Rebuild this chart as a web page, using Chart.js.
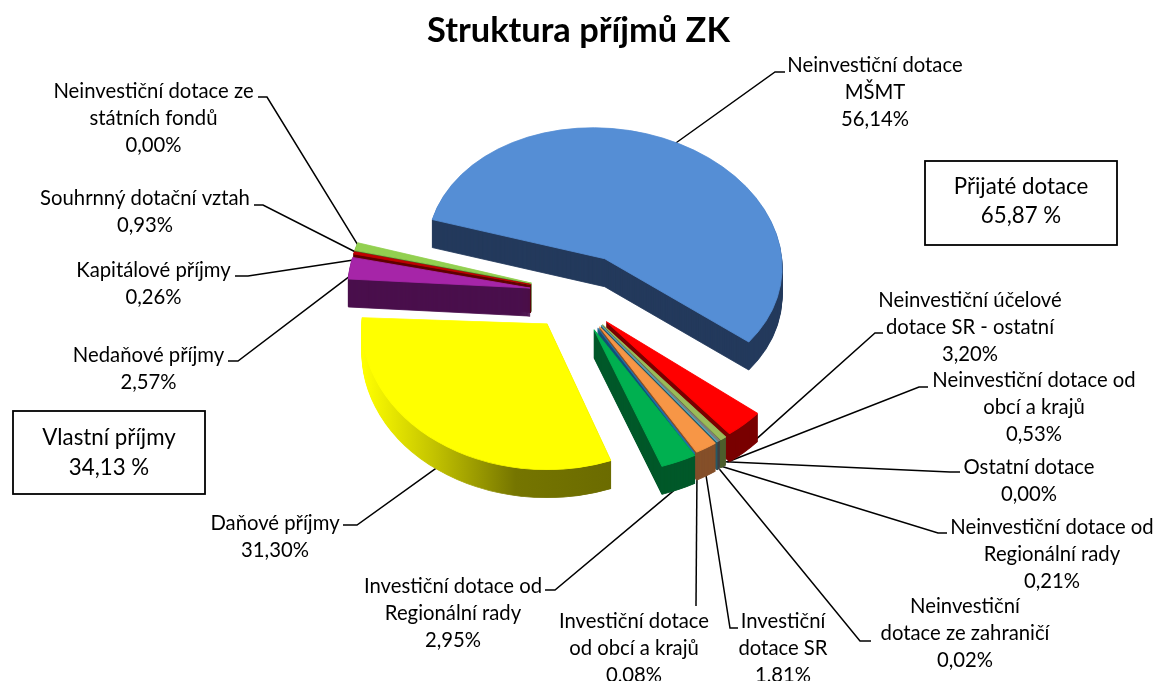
<!DOCTYPE html>
<html lang="cs">
<head>
<meta charset="utf-8">
<title>Struktura příjmů ZK</title>
<style>
  html, body { margin: 0; background: #fff; overflow: hidden; }
  canvas { display: block; }
</style>
<script src="https://cdn.jsdelivr.net/npm/chart.js@4/dist/chart.umd.min.js"></script>
</head>
<body>
<canvas id="graf" width="1157" height="681"></canvas>
<script>
const nadpis = "Struktura příjmů ZK";

const kategorie = [
  "Neinvestiční dotace MŠMT",
  "Neinvestiční účelové dotace SR - ostatní",
  "Neinvestiční dotace od obcí a krajů",
  "Ostatní dotace",
  "Neinvestiční dotace od Regionální rady",
  "Neinvestiční dotace ze zahraničí",
  "Investiční dotace SR",
  "Investiční dotace od obcí a krajů",
  "Investiční dotace od Regionální rady",
  "Daňové příjmy",
  "Nedaňové příjmy",
  "Kapitálové příjmy",
  "Souhrnný dotační vztah",
  "Neinvestiční dotace ze státních fondů",
];
const hodnoty = [56.14, 3.2, 0.53, 0, 0.21, 0.02, 1.81, 0.08, 2.95, 31.3, 2.57, 0.26, 0.93, 0];

// popisky po radcich, posledni radek je hodnota
const popisky = [
  ["Neinvestiční dotace", "MŠMT"],
  ["Neinvestiční účelové", "dotace SR - ostatní"],
  ["Neinvestiční dotace od", "obcí a krajů"],
  ["Ostatní dotace"],
  ["Neinvestiční dotace od", "Regionální rady"],
  ["Neinvestiční", "dotace ze zahraničí"],
  ["Investiční", "dotace SR"],
  ["Investiční dotace", "od obcí a krajů"],
  ["Investiční dotace od", "Regionální rady"],
  ["Daňové příjmy"],
  ["Nedaňové příjmy"],
  ["Kapitálové příjmy"],
  ["Souhrnný dotační vztah"],
  ["Neinvestiční dotace ze", "státních fondů"],
];
const rameckyText = [
  ["Přijaté dotace", "65,87 %"],
  ["Vlastní příjmy", "34,13 %"],
];

const barvy = ["#558ed5", "#ff0000", "#9bbb59", "#8064a2", "#7f7f7f", "#4bacc6", "#f79646", "#1f6fa8", "#00b050", "#ffff00", "#a625a8", "#c00000", "#92d050", "#4f81bd"];
const barvyBoku = ["#233a5c", "#7a0000", "#4e5e2d", "#40325a", "#404040", "#265a66", "#85502a", "#10507c", "#00592a", "#6b6b00", "#4a0f4c", "#5f0000", "#4a682a", "#28405e"];

// rozlozeni popisku: stred textu, prvni radek, zlom a konec vodici cary, posun od kraje vyseku
const popiskyX = [875, 970, 1034, 1029, 1052, 965, 783, 634, 453, 275, 148.5, 153.5, 145, 153.5];
const popiskyY = [65, 300, 380, 467, 527, 606, 621, 621, 586, 523, 355, 270, 198, 91];
const zlomy = [[775, 72], [875, 333], [919, 387], [950, 472], [938, 533], [860, 641], [730, 628], [696, 606], [555, 590], [357, 525], [238, 361], [248, 276], [263, 205], [267, 97]];
const konce = [[785, 72], [883, 333], [928, 387], [960, 472], [947, 533], [871, 641], [738, 628], [696, 606], [545, 590], [343, 525], [228, 361], [235, 276], [254, 205], [258, 97]];
const posunKotvy = [[-24, 8], [-6, 34], [1, 30], [2, 28], [-3, 31], [-1, 34], [-4, 29], [0, 28], [4, 31], [14, 28], [10, 7], [10, 7], [9, 6], [10, 6]];

// dorovnani perspektivy: predni vyseky jsou v originale vetsi, zadni mensi
const meritkoX = [0.957, 1.06, 1.06, 1.06, 1.06, 1.06, 1.06, 1.06, 1.06, 1, 0.985, 0.985, 0.985, 0.985];
const meritkoY = [0.97, 1.07, 1.07, 1.07, 1.07, 1.07, 1.07, 1.07, 1.07, 1.08, 1, 1, 1, 1];
const posunX = [0, -11, -10, -10, -10, -10, -9, -8, -7, 2, 6, 6, 6, 6];
const posunY = [0, -1, -1, -1, -1, -1, -1, -1, -1, -2, 0, 0, 0, 0];
const zkoseniX = [0.09, 0, 0, 0, 0, 0, 0, 0, 0.035, 0.03, 0, 0, 0, 0];
const zkoseniY = [0, 0, 0, 0, 0, 0, 0, 0, 0, -0.02, 0, 0, 0, 0];

const rameckyPoloha = [[925, 161, 192, 84, 187, 216], [13, 411, 192, 83, 438, 468]];

const pismo = "Lato, Carlito, Calibri, sans-serif";
const VELIKOST_POPISKU = 20.3;
const VELIKOST_RAMECKU = 22.3;
const VELIKOST_NADPISU = 34.4;
const RADEK = 27.2;
const HLOUBKA = 28;
const ROZTAH = 55;        // o kolik px jsou vyseky vysunute
const POLOMER = 185;
const ZPLOSTENI = 135 / 185;

function stredVyseku(arc) {
  return (arc.startAngle + arc.endAngle) / 2;
}

// posun vyseku od stredu a sklopeni do elipsy
function umistit(ctx, arc, i, d) {
  const uhel = stredVyseku(arc);
  ctx.translate(Math.cos(uhel) * ROZTAH + posunX[i], Math.sin(uhel) * ROZTAH * ZPLOSTENI + posunY[i] + d);
  ctx.translate(arc.x, arc.y);
  ctx.transform(1, zkoseniY[i], zkoseniX[i], 1, 0, 0);
  ctx.scale(meritkoX[i], ZPLOSTENI * meritkoY[i]);
  ctx.translate(-arc.x, -arc.y);
}

function barvaBoku(ctx, i, arc) {
  if (i !== 9) return barvyBoku[i];
  // bok zlute vysece jde od svetle do tmave
  const dx = Math.cos(stredVyseku(arc)) * ROZTAH + posunX[i];
  const g = ctx.createLinearGradient(362 - dx, 0, 611 - dx, 0);
  g.addColorStop(0, "#ffff00");
  g.addColorStop(0.27, "#c4c400");
  g.addColorStop(0.6, "#757500");
  g.addColorStop(1, "#6b6b00");
  return g;
}

const vysecePlugin = {
  id: "vysece3d",
  beforeDatasetDraw(chart) {
    const ctx = chart.ctx;
    const arcs = chart.getDatasetMeta(0).data;

    // vodici cary jsou pod vysecemi
    ctx.save();
    ctx.strokeStyle = "#000";
    ctx.lineWidth = 1.5;
    arcs.forEach((arc, i) => {
      const uhel = stredVyseku(arc);
      const x = arc.x + Math.cos(uhel) * (POLOMER + ROZTAH) + posunKotvy[i][0];
      const y = arc.y + Math.sin(uhel) * (POLOMER + ROZTAH) * ZPLOSTENI + posunKotvy[i][1];
      ctx.beginPath();
      ctx.moveTo(x, y);
      ctx.lineTo(zlomy[i][0], zlomy[i][1]);
      ctx.lineTo(konce[i][0], konce[i][1]);
      ctx.stroke();
    });
    ctx.restore();

    // hloubka: stejne vyseky posunute dolu, odzadu dopredu
    const poradi = arcs.map((arc, i) => i)
      .filter((i) => hodnoty[i] > 0)
      .sort((a, b) => Math.sin(stredVyseku(arcs[a])) - Math.sin(stredVyseku(arcs[b])));
    poradi.forEach((i) => {
      const arc = arcs[i];
      const puvodni = arc.options.backgroundColor;
      const bok = barvaBoku(ctx, i, arc);
      arc.options.backgroundColor = bok;
      arc.options.borderColor = bok;
      for (let d = HLOUBKA; d >= 1; d--) {
        ctx.save();
        umistit(ctx, arc, i, d);
        arc.draw(ctx);
        ctx.restore();
      }
      arc.options.backgroundColor = puvodni;
      arc.options.borderColor = puvodni;
    });
    // vrchni plochy
    arcs.forEach((arc, i) => {
      if (hodnoty[i] <= 0) return;
      ctx.save();
      umistit(ctx, arc, i, 0);
      arc.draw(ctx);
      ctx.restore();
    });
    return false;
  },
  afterDatasetsDraw(chart) {
    const ctx = chart.ctx;
    ctx.save();
    ctx.fillStyle = "#000";
    ctx.textAlign = "center";
    ctx.textBaseline = "middle";
    ctx.font = VELIKOST_POPISKU + "px " + pismo;
    popisky.forEach((radky, i) => {
      const text = radky.concat(hodnoty[i].toFixed(2).replace(".", ",") + "%");
      text.forEach((r, j) => ctx.fillText(r, popiskyX[i], popiskyY[i] + j * RADEK));
    });
    ctx.font = VELIKOST_RAMECKU + "px " + pismo;
    rameckyPoloha.forEach((p, i) => {
      ctx.lineWidth = 1.8;
      ctx.strokeStyle = "#000";
      ctx.strokeRect(p[0], p[1], p[2], p[3]);
      ctx.fillText(rameckyText[i][0], p[0] + p[2] / 2, p[4]);
      ctx.fillText(rameckyText[i][1], p[0] + p[2] / 2, p[5]);
    });
    ctx.restore();
  },
};

new Chart(document.getElementById("graf"), {
  type: "pie",
  data: {
    labels: kategorie,
    datasets: [{
      data: hodnoty,
      backgroundColor: barvy,
      borderColor: barvy,
      borderWidth: 1,
      clip: false,
    }],
  },
  options: {
    responsive: false,
    animation: false,
    rotation: 287.4,
    radius: POLOMER,
    layout: { padding: { bottom: 144.3 } },
    plugins: {
      legend: { display: false },
      tooltip: { enabled: false },
      title: {
        display: true,
        text: nadpis,
        color: "#000",
        font: { family: pismo, size: VELIKOST_NADPISU, weight: "bold" },
        padding: { top: 10, bottom: 0 },
      },
    },
  },
  plugins: [vysecePlugin],
});
</script>
</body>
</html>
